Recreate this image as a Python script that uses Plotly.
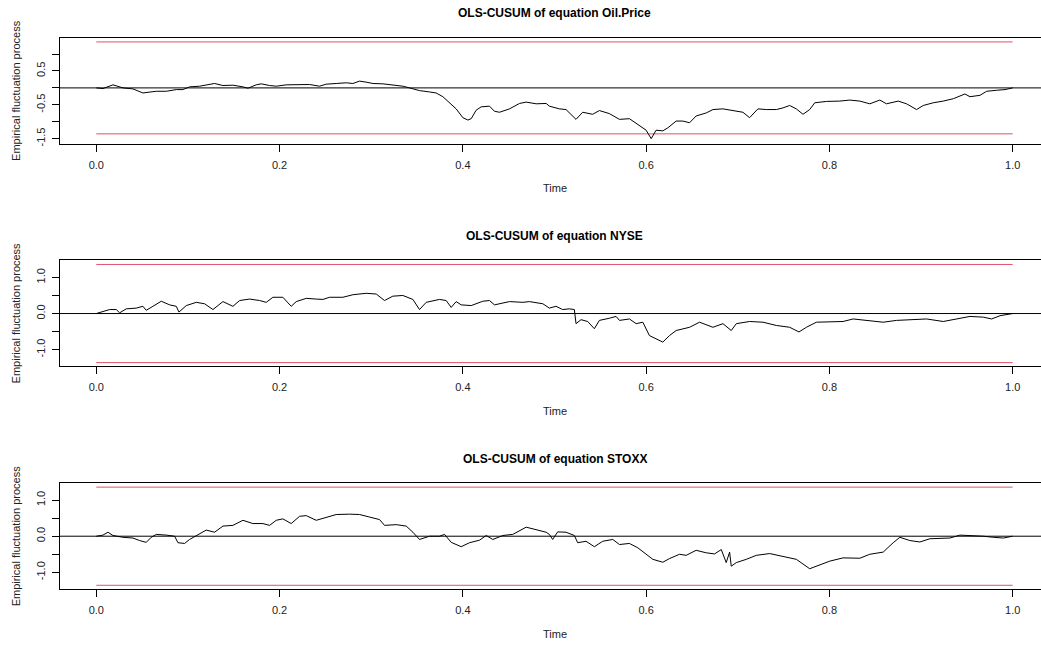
import plotly.graph_objects as go

# ---------------- data ----------------
oil_time = [0, .0073, .0182, .0291, .04, .0509, .0564, .0655, .0764, .0873,
            .0945, .1018, .1127, .12, .1291, .1382, .1491, .16, .1655, .1745,
            .18, .1891, .1964, .2073, .2182, .2327, .2436, .2509, .2618, .2727,
            .28, .2873, .2945, .3018, .3127, .3236, .3345, .3418, .3527, .3636,
            .3709, .3782, .3855, .3927, .4, .4055, .4091, .4145, .42, .4291,
            .4345, .44, .4509, .4618, .4691, .48, .4909,
            .4944, .5053, .5126, .5235, .5308, .5417, .549, .5599, .5709, .5818,
            .5927, .6, .6055, .6109, .6182, .6237, .6328, .6401, .6474, .6546,
            .6656, .6729, .6838, .6947, .7056, .7129, .722, .7311, .7421, .7494,
            .7566, .7639, .7712, .7785, .784, .7967, .8113, .8222, .8332, .8441,
            .855, .8623, .8751, .8842, .8951, .9024, .9133, .9242, .9352, .9479,
            .9534, .9643, .9716, .9825, .9916, 1.0]
oil_cusum = [0, -0.02, 0.09, 0, -0.03, -0.15, -0.13, -0.1, -0.1, -0.05,
             -0.05, 0.03, 0.05, 0.08, 0.13, 0.07, 0.08, 0.03, -0.01, 0.09,
             0.12, 0.07, 0.05, 0.09, 0.1, 0.1, 0.05, 0.11, 0.13, 0.15,
             0.13, 0.2, 0.17, 0.13, 0.12, 0.09, 0.05, 0, -0.08, -0.12,
             -0.15, -0.26, -0.44, -0.62, -0.88, -0.95, -0.91, -0.66, -0.56, -0.54,
             -0.69, -0.72, -0.62, -0.46, -0.42, -0.47, -0.46,
             -0.54, -0.62, -0.64, -0.93, -0.72, -0.78, -0.67, -0.76, -0.93, -0.91,
             -1.11, -1.25, -1.5, -1.25, -1.27, -1.18, -0.98, -0.98, -1.03, -0.83,
             -0.74, -0.64, -0.62, -0.66, -0.72, -0.88, -0.62, -0.64, -0.64, -0.59,
             -0.52, -0.62, -0.78, -0.64, -0.44, -0.4, -0.39, -0.36, -0.39, -0.47,
             -0.36, -0.47, -0.39, -0.47, -0.64, -0.52, -0.44, -0.39, -0.32, -0.18,
             -0.26, -0.22, -0.1, -0.07, -0.05, 0]

nyse_time = [0, .0073, .0145, .0218, .0255, .0327, .0436, .0509, .0545, .0618,
             .0709, .08, .0873, .0902, .0982, .1091, .1182, .1273, .1382, .1491,
             .1564, .1673, .1782, .1855, .1927, .2036, .2127, .2182, .2291, .24,
             .2473, .2545, .2691, .28, .2945, .3055, .3145, .3236, .3345, .3455,
             .3527, .36, .3745, .3818, .3873, .3927, .3982, .4091, .4218, .4291,
             .4345, .4509, .4655, .4727, .4873,
             .4944, .5016, .5089, .5162, .5217, .5235, .529, .5362, .5435, .549,
             .5599, .5672, .5709, .5818, .5891, .5964, .6036, .6109, .6182, .6255,
             .6328, .6474, .6583, .6729, .6838, .6929, .6984, .7129, .7275, .7421,
             .7566, .7668, .7749, .7858, .8004, .8149, .8259, .8404, .8587, .8732,
             .8878, .906, .9242, .9388, .9534, .9679, .977, .9862, 1.0]
nyse_cusum = [0, .05, .11, .11, .02, .13, .15, .2, .09, .2,
              .34, .24, .2, .04, .22, .31, .27, .11, .33, .2,
              .36, .4, .36, .31, .45, .45, .2, .33, .42, .4,
              .39, .45, .45, .52, .56, .54, .36, .48, .5, .39,
              .11, .31, .39, .36, .17, .33, .24, .22, .34, .36,
              .24, .33, .31, .33, .27,
              .15, .2, .11, .13, .11, -.28, -.17, -.22, -.42, -.19,
              -.13, -.08, -.19, -.15, -.28, -.24, -.61, -.7, -.79, -.61,
              -.47, -.38, -.24, -.38, -.28, -.47, -.28, -.22, -.24, -.33,
              -.38, -.51, -.38, -.24, -.24, -.22, -.15, -.19, -.24, -.19,
              -.17, -.15, -.22, -.15, -.08, -.1, -.15, -.06, 0]

stoxx_time = [0, .0073, .0127, .0182, .0291, .04, .0473, .0545, .06, .0655,
              .0764, .0855, .0891, .0964, .1018, .1091, .12, .1291, .1382, .1491,
              .16, .1709, .1818, .1891, .1964, .2036, .2127, .2218, .2291, .24,
              .2509, .2618, .2764, .2873, .2982, .3091, .3145, .3273, .3382, .3455,
              .3527, .3636, .3745, .38, .3873, .3982, .4073, .4182, .4255, .4327,
              .4436, .4545, .4691, .48, .4909,
              .4944, .498, .5035, .5126, .5217, .5253, .5344, .5435, .5526, .5636,
              .5709, .5818, .5909, .6, .6073, .6182, .6255, .6364, .6437, .6546,
              .6656, .6747, .682, .6874, .6911, .6929, .6984, .7093, .7202, .7348,
              .7494, .7639, .7785, .7858, .8004, .8149, .8332, .8441, .8587, .8696,
              .8769, .8878, .8987, .9097, .9206, .9315, .9424, .957, .9679, .9789,
              .9898, 1.0]
stoxx_cusum = [0, .03, .11, .02, -.03, -.05, -.12, -.17, -.03, .05,
               .03, 0, -.18, -.2, -.09, .02, .17, .11, .28, .3,
               .44, .35, .35, .3, .44, .48, .35, .55, .57, .44,
               .53, .6, .61, .6, .53, .46, .3, .32, .28, .11,
               -.09, 0, 0, .05, -.17, -.29, -.18, -.11, .02, -.09,
               .02, .05, .25, .17, .11,
               .05, -.09, .12, .11, .02, -.18, -.14, -.29, -.14, -.09,
               -.23, -.2, -.32, -.5, -.64, -.72, -.62, -.5, -.53, -.39,
               -.46, -.49, -.37, -.73, -.44, -.83, -.73, -.64, -.53, -.48,
               -.55, -.64, -.9, -.83, -.69, -.6, -.61, -.5, -.44, -.18,
               -.03, -.12, -.16, -.07, -.05, -.05, .03, .02, 0, -.03,
               -.05, 0]

equations = ["Oil.Price", "NYSE", "STOXX"]
boundary = 1.358
x_ticks = [0, 0.2, 0.4, 0.6, 0.8, 1.0]
x_ticklabels = ["0.0", "0.2", "0.4", "0.6", "0.8", "1.0"]
y_ticks = [[-1.5, -1.0, -0.5, 0.0, 0.5, 1.0],
           [-1.0, -0.5, 0.0, 0.5, 1.0],
           [-1.0, -0.5, 0.0, 0.5, 1.0]]
y_ticklabels = [["-1.5", "", "-0.5", "", "0.5", ""],
                ["-1.0", "", "0.0", "", "1.0"],
                ["-1.0", "", "0.0", "", "1.0"]]

series = [(oil_time, oil_cusum), (nyse_time, nyse_cusum), (stoxx_time, stoxx_cusum)]

# ---------------- layout geometry ----------------
W, H = 1041, 647
FONT = "Liberation Sans, Arial, Helvetica, sans-serif"
plot_left_px = 60
# (top px, bottom px) of each panel box in the reference
panel_px = [(38.3, 144.3), (261.7, 368.0), (485.7, 592.0)]
y_ranges = [[-1.647, 1.4706], [-1.46, 1.468], [-1.468, 1.46]]
x_range = [-0.0396, 1.0309]   # plot box runs past the right edge of the picture

fig = go.Figure()
annotations = []
shapes = []

for i, (name, (tt, vv)) in enumerate(zip(equations, series)):
    ax = "" if i == 0 else str(i + 1)
    xref, yref = "x" + ax, "y" + ax
    for b in (boundary, -boundary):
        fig.add_trace(go.Scatter(x=[0, 1], y=[b, b], mode="lines",
                                 line=dict(color="#DF536B", width=1),
                                 xaxis=xref, yaxis=yref, showlegend=False,
                                 hoverinfo="skip"))
    fig.add_trace(go.Scatter(x=tt, y=vv, mode="lines",
                             line=dict(color="black", width=1),
                             xaxis=xref, yaxis=yref, showlegend=False))
    shapes.append(dict(type="line", xref=xref + " domain", yref=yref,
                       x0=0, x1=1, y0=0, y1=0,
                       line=dict(color="black", width=1)))

    top, bot = panel_px[i]
    dom = [1 - bot / H, 1 - top / H]
    fig.layout["xaxis" + ax] = dict(
        domain=[plot_left_px / W, 1], range=x_range, anchor=yref,
        tickvals=x_ticks, ticktext=x_ticklabels, ticks="outside", ticklen=7,
        tickcolor="black", tickwidth=1, showline=True, linecolor="black",
        linewidth=1, mirror=True, showgrid=False, zeroline=False,
        tickfont=dict(family=FONT, size=11, color="#222"),
        ticklabelstandoff=4, fixedrange=True)
    fig.layout["yaxis" + ax] = dict(
        domain=dom, range=y_ranges[i], anchor=xref,
        tickvals=y_ticks[i], ticktext=y_ticklabels[i], ticks="outside",
        ticklen=7, tickcolor="black", tickwidth=1, showline=True,
        linecolor="black", linewidth=1, showgrid=False, zeroline=False,
        tickangle=-90, tickfont=dict(family=FONT, size=11, color="#222"),
        ticklabelstandoff=3, fixedrange=True)

    cx = (plot_left_px + 1049) / 2 / W
    annotations.append(dict(text="<b>OLS-CUSUM of equation %s</b>" % name,
                            x=cx, y=1 - (top - 25) / H, xref="paper", yref="paper",
                            xanchor="center", yanchor="middle", showarrow=False,
                            font=dict(family=FONT, size=12, color="black")))
    annotations.append(dict(text="Time", x=cx, y=1 - (bot + 44.7) / H,
                            xref="paper", yref="paper", xanchor="center",
                            yanchor="middle", showarrow=False,
                            font=dict(family=FONT, size=11, color="#222")))
    annotations.append(dict(text="Empirical fluctuation process", x=16 / W,
                            y=1 - (top + bot) / 2 / H, xref="paper", yref="paper",
                            xanchor="center", yanchor="middle", textangle=-90,
                            showarrow=False,
                            font=dict(family=FONT, size=11, color="#222")))

fig.update_layout(width=W, height=H, autosize=False,
                  margin=dict(l=0, r=0, t=0, b=0),
                  paper_bgcolor="white", plot_bgcolor="white",
                  annotations=annotations, shapes=shapes, showlegend=False,
                  hovermode=False)

fig.write_html("out.html",
               config={"displayModeBar": False, "staticPlot": True},
               post_script="document.body.style.margin='0';"
                           "document.body.style.overflow='hidden';")
